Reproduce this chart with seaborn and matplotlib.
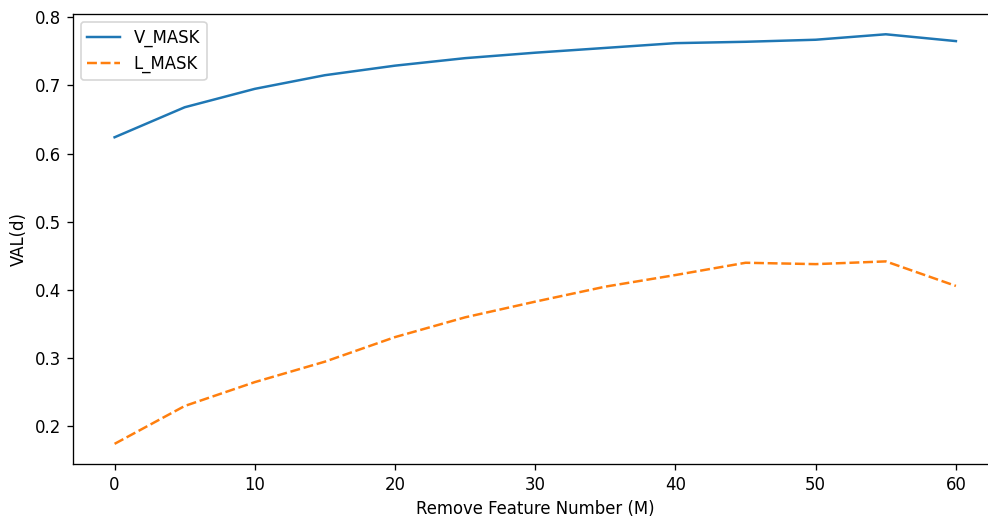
import matplotlib
matplotlib.use("Agg")
import matplotlib.pyplot as plt
import seaborn as sns
import pandas as pd

x_vals = [0, 5, 10, 15, 20, 25, 30, 35, 40, 45, 50, 55, 60]
v_mask = [0.624, 0.668, 0.695, 0.715, 0.729, 0.740, 0.748, 0.755, 0.762, 0.764, 0.767, 0.775, 0.765]
l_mask = [0.1745, 0.230, 0.265, 0.295, 0.331, 0.360, 0.383, 0.405, 0.422, 0.440, 0.438, 0.442, 0.406]
series_names = ["V_MASK", "L_MASK"]

df = pd.DataFrame({
    "x": x_vals * 2,
    "y": v_mask + l_mask,
    "series": [series_names[0]] * len(x_vals) + [series_names[1]] * len(x_vals),
})

s = 1.19
plt.rcParams.update({
    "font.family": ["DejaVu Sans"],
    "font.size": 10 * s,
    "axes.linewidth": 0.8 * s,
    "xtick.major.size": 3.5 * s,
    "ytick.major.size": 3.5 * s,
    "xtick.major.width": 0.8 * s,
    "ytick.major.width": 0.8 * s,
    "xtick.major.pad": 3.5 * s,
    "ytick.major.pad": 3.5 * s,
    "axes.labelpad": 4 * s,
    "legend.fontsize": 10 * s,
    "patch.linewidth": 1.0 * s,
})

fig = plt.figure(figsize=(9.88, 5.17), dpi=100)
ax = fig.add_axes([0.0734, 0.1019, 0.9367, 0.8714])
sns.lineplot(data=df, x="x", y="y", hue="series", style="series",
             palette=["#1f77b4", "#ff7f0e"], linewidth=1.5 * s, ax=ax)
ax.set_xlabel("Remove Feature Number (M)")
ax.set_ylabel("VAL(d)")
ax.set_xticks([0, 10, 20, 30, 40, 50, 60])
ax.set_yticks([0.2, 0.3, 0.4, 0.5, 0.6, 0.7, 0.8])
ax.legend(title=None, loc="upper left")
fig.savefig("out.png", dpi=100)
